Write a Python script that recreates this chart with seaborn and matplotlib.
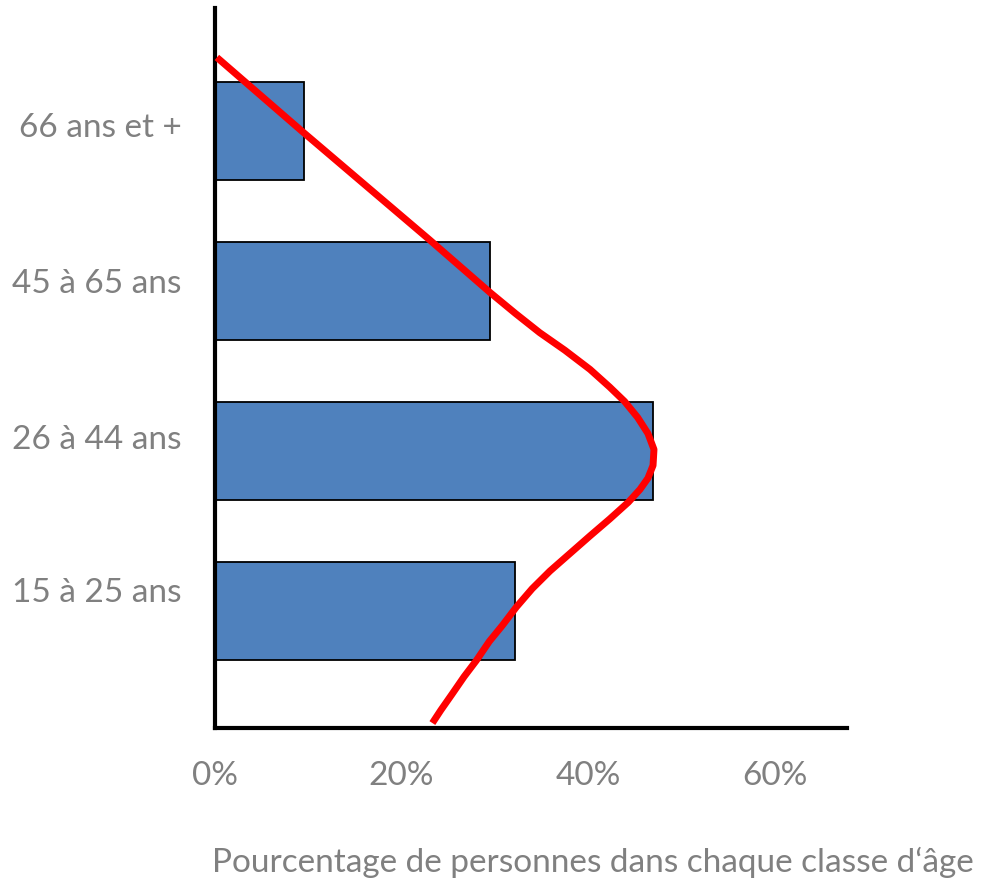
import numpy as np
import pandas as pd
import matplotlib
matplotlib.use("Agg")
import matplotlib.pyplot as plt
import seaborn as sns

# Data
categories = ["66 ans et +", "45 à 65 ans", "26 à 44 ans", "15 à 25 ans"]
values = [9.5, 29.5, 46.9, 32.2]

# Red curve (x in %, y in category units, 0 = "15 à 25 ans")
curve_x = [0.2, 9.5, 23.0, 29.5, 32.2, 34.8, 37.5, 40.2, 42.3, 43.9, 45.3, 46.4,
           47.05, 46.95, 46.4, 45.55, 44.3, 42.3, 40.2, 38.05, 35.9, 34.0, 32.3,
           30.8, 29.4, 28.0, 26.7, 25.4, 24.2, 23.3]
curve_y = [3.46, 2.99, 2.32, 1.99, 1.86, 1.74, 1.63, 1.51, 1.40, 1.31, 1.21, 1.11,
           1.01, 0.91, 0.83, 0.76, 0.68, 0.575, 0.47, 0.36, 0.25, 0.14, 0.025,
           -0.09, -0.19, -0.31, -0.41, -0.52, -0.62, -0.70]

xticks = [0, 20, 40, 60]
xticklabels = ["0%", "20%", "40%", "60%"]
xlabel = "Pourcentage de personnes dans chaque classe d\u2018âge"

sns.set_style("white")
plt.rcParams["font.family"] = ["Lato", "DejaVu Sans"]

fig = plt.figure(figsize=(10.05, 8.82), dpi=100)
ax = fig.add_axes([215 / 1005, 1 - 728 / 882, (847 - 215) / 1005, (728 - 8) / 882])

df = pd.DataFrame({"cat": categories, "val": values})
sns.barplot(data=df, x="val", y="cat", order=categories, orient="h",
            color="#4F81BD", saturation=1, width=0.6125,
            edgecolor="black", linewidth=1.3, ax=ax)

n = len(categories)
ax.plot(curve_x, [n - 1 - y for y in curve_y], color="#FF0000", lw=5,
        solid_capstyle="butt", solid_joinstyle="round", zorder=5, clip_on=False)

ax.set_xlim(0, 67.74)
ax.set_ylim(n - 1 + 0.731, n - 1 - 3.769)

for s in ["top", "right"]:
    ax.spines[s].set_visible(False)
for s in ["left", "bottom"]:
    ax.spines[s].set_color("black")
    ax.spines[s].set_linewidth(3)

ax.set_xticks(xticks)
ax.set_xticklabels(xticklabels)
ax.tick_params(axis="x", direction="inout", length=20, width=3, color="black",
               labelsize=24, labelcolor="#808080", pad=14)
ax.xaxis.get_major_ticks()[0].tick1line.set_visible(False)

# label positions sit slightly above the bar centres in the reference
ax.set_yticks([-0.04, 0.94, 1.91, 2.87])
ax.set_yticklabels(categories)
ax.tick_params(axis="y", length=0, labelsize=24, labelcolor="#808080", pad=24)
ax.set_xlabel("")
ax.set_ylabel("")

fig.text(212 / 1005, 1 - 862 / 882, xlabel, ha="left", va="center",
         fontsize=24, color="#808080")

fig.savefig("out.png", dpi=100)
